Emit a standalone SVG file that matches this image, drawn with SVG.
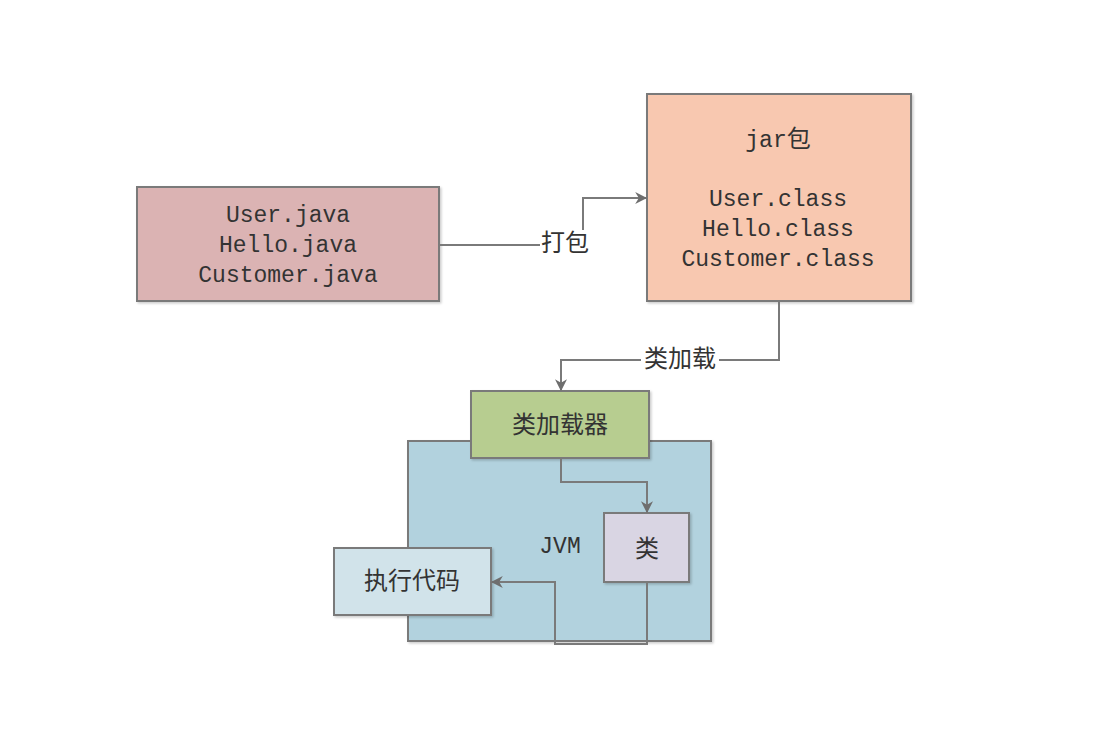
<svg xmlns="http://www.w3.org/2000/svg" width="1118" height="732" viewBox="0 0 1118 732">
<defs>
<style>
.box{stroke:#7a7a7a;stroke-width:2;filter:url(#sh)}
.mono{font-family:"Liberation Mono","DejaVu Sans Mono",monospace;font-size:23px;fill:#333;text-anchor:middle}
.cjk{font-family:"Noto Sans CJK SC","Noto Sans",sans-serif;font-size:24px;fill:#333;text-anchor:middle}
.line{fill:none;stroke:#7a7a7a;stroke-width:2}
</style>
<filter id="sh" x="-10%" y="-10%" width="120%" height="120%">
<feDropShadow dx="1.5" dy="1.5" stdDeviation="1" flood-color="#000" flood-opacity="0.2"/>
</filter>
<marker id="arr" viewBox="0 0 10 10" refX="9" refY="5" markerWidth="6" markerHeight="6" markerUnits="strokeWidth" orient="auto">
<path d="M0,0 L10,5 L0,10 L3,5 z" fill="#6e6e6e"/>
</marker>
</defs>
<rect width="1118" height="732" fill="#fff"/>
<g id="java-files">
<rect class="box" x="137" y="187" width="302" height="114" fill="#dbb3b3"/>
<text class="mono" x="288" y="222">User.java</text>
<text class="mono" x="288" y="252">Hello.java</text>
<text class="mono" x="288" y="282">Customer.java</text>
</g>
<g id="jar">
<rect class="box" x="647" y="94" width="264" height="207" fill="#f8c8b0"/>
<text class="mono" x="778" y="147">jar<tspan class="cjk" style="font-family:'Noto Sans CJK SC',sans-serif">包</tspan></text>
<text class="mono" x="778" y="206">User.class</text>
<text class="mono" x="778" y="236">Hello.class</text>
<text class="mono" x="778" y="266">Customer.class</text>
</g>
<g id="jvm">
<rect class="box" x="408" y="441" width="303" height="200" fill="#b2d2de"/>
<text class="mono" x="560" y="553">JVM</text>
</g>
<g id="classloader">
<rect class="box" x="471" y="391" width="178" height="67" fill="#b7cd90"/>
<text class="cjk" x="560" y="433">类加载器</text>
</g>
<g id="class">
<rect class="box" x="604" y="513" width="85" height="69" fill="#d9d5e3"/>
<text class="cjk" x="647" y="557">类</text>
</g>
<g id="execute">
<rect class="box" x="334" y="548" width="157" height="67" fill="#d1e3ea"/>
<text class="cjk" x="412" y="589">执行代码</text>
</g>
<g id="connectors">
<path class="line" d="M439,245 H583 V198 H646" marker-end="url(#arr)"/>
<rect x="540" y="230" width="51" height="28" fill="#fff"/>
<text class="cjk" x="565" y="251">打包</text>
<path class="line" d="M779,301 V360 H561 V390" marker-end="url(#arr)"/>
<rect x="641" y="345" width="78" height="28" fill="#fff"/>
<text class="cjk" x="680" y="367">类加载</text>
<path class="line" d="M561,458 V482 H647 V512" marker-end="url(#arr)"/>
<path class="line" d="M647,582 V644 H555 V582 H492" marker-end="url(#arr)"/>
</g>
</svg>
